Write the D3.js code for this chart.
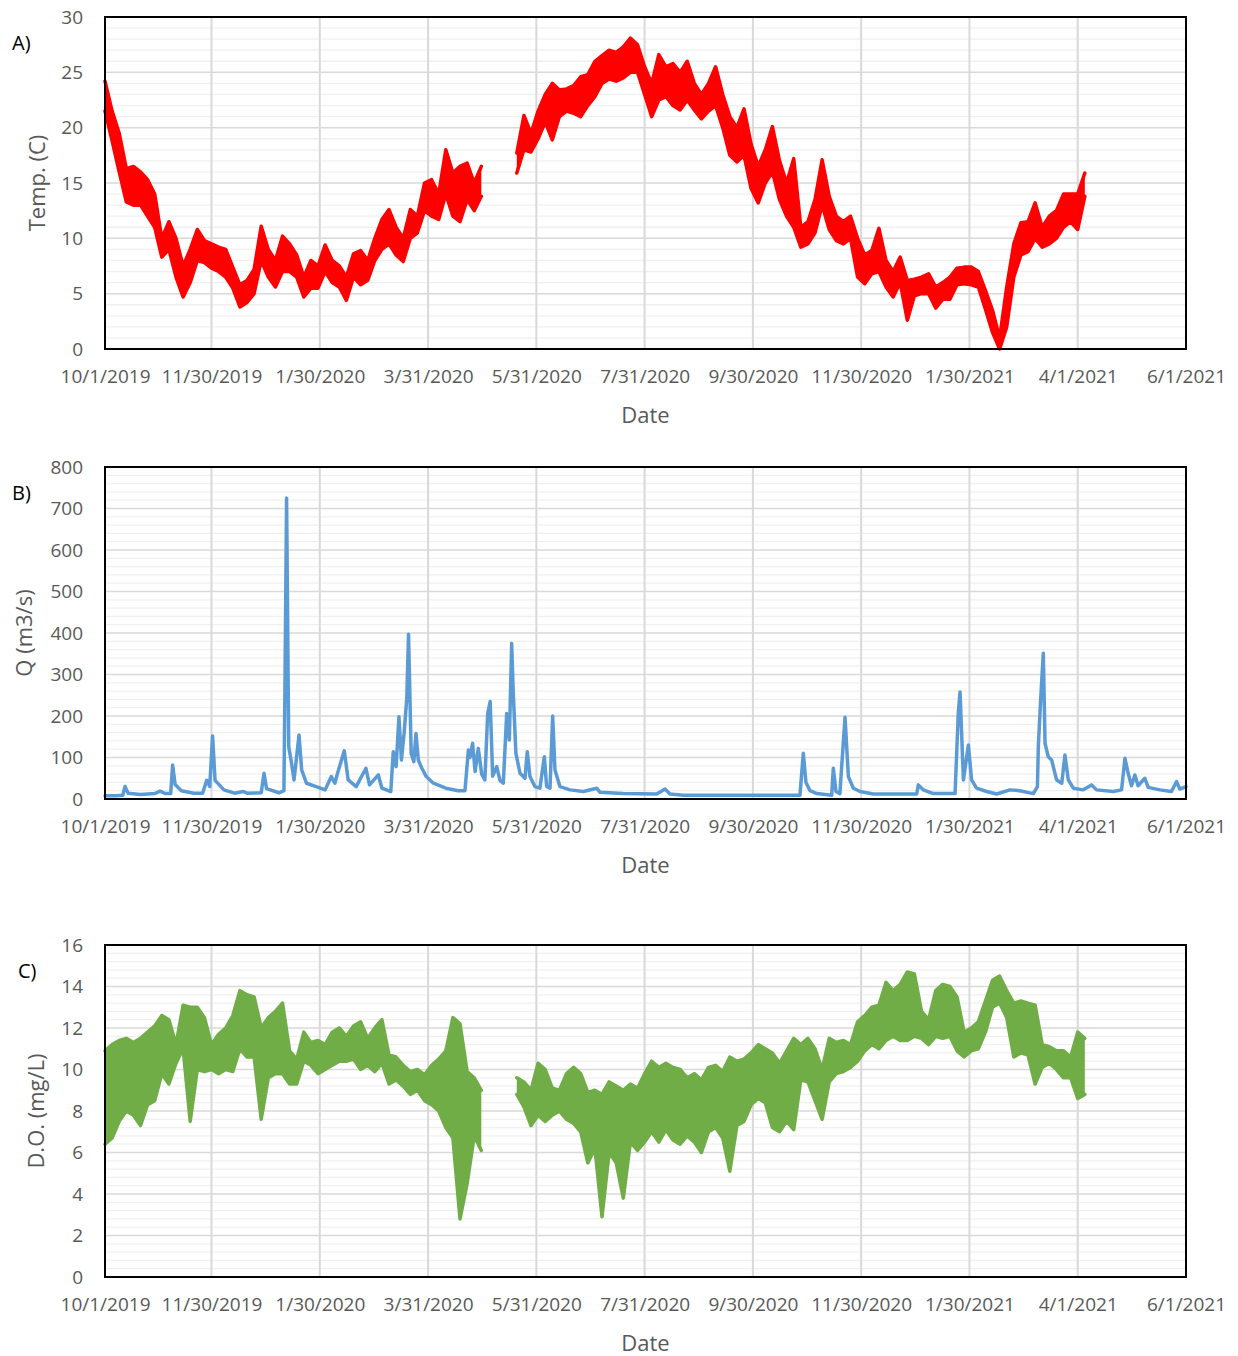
<!DOCTYPE html>
<html>
<head>
<meta charset="utf-8">
<script src="https://cdn.jsdelivr.net/npm/d3@7"></script>
<style>
  body { margin: 0; background: #fff; }
  svg text { font-family: "Open Sans", sans-serif; }
  .tick text { fill: #595959; font-size: 19px; }
  .axis-title { fill: #595959; font-size: 22px; }
  .panel-label { fill: #000; font-size: 20px; }
</style>
</head>
<body>
<div id="chart"></div>
<script>
// x axis tick labels (dates shown under every panel)
var xTickLabels = ["10/1/2019", "11/30/2019", "1/30/2020", "3/31/2020", "5/31/2020", "7/31/2020",
                   "9/30/2020", "11/30/2020", "1/30/2021", "4/1/2021", "6/1/2021"];
var startLabel = "10/1/2019";
var step = 4; // days between band samples of temp / D.O.

// A) water temperature, daily range sampled every 4 days (null = no record)
var tempHi = [24.2,21.5,19.5,16.3,16.5,16,15.3,14,10,11.5,10,7.5,9,10.8,9.8,9.5,9.2,9.0,7.4,5.8,6.2,7.2,11.1,9,8,10.2,9.5,8.5,6.5,8,7.5,9.4,8,7.5,6.5,8.6,8.9,8,10,11.7,12.6,11,10,12.6,12,15,15.3,14,18,15.9,16.5,16.8,15,16.5,
  null,null,null,null,
  17.7,21.1,19.5,21.5,23,24,23.4,23.5,23.8,24.6,24.8,26,26.5,27,26.8,27.3,28.1,27.5,25.5,24,26.6,25.5,25.8,25,26,24,23,24,25.5,23,21,20,21.7,18.5,16.5,18,20.1,17,15,17.2,11,11.5,13.5,17.1,13.8,12,11.5,12,10,8.5,8.9,10.9,8,7,8.3,6.2,6.3,6.5,6.8,5.6,6,6.5,7.3,7.4,7.4,7,5.3,3.5,1,5.6,9.5,11.4,11.5,13.2,11,12,12.5,14,14,14,15.9];
var tempLo = [21.5,18.8,16,13.3,13,13,12,11,8.3,9,6.5,4.7,6,8,7.8,7.3,7,6.5,5.5,3.8,4.2,5,8,6.5,5.6,7,7,6.5,4.7,5.5,5.5,7,6,5.6,4.4,6.5,5.8,6.2,8,9,9.5,8.5,7.9,10,10.5,12.5,12,11.7,14,12,11.5,13.5,12.5,13.8,
  null,null,null,null,
  15.9,18,17.8,19,20.5,18.9,21,21.5,21.3,21,22,22.8,24,24.4,24.2,24.5,25,25,23,21,22.5,22.8,22,21.6,22.5,21.6,20.8,21.5,22,20,17.5,16.9,17.5,14.5,13.2,15,16,13.5,12,11,9.2,9.5,10.5,13,10.8,9.8,9.5,10,6.5,5.9,6.8,7,5.6,4.7,6,2.6,4.8,5,5,3.7,4.5,4.5,5.8,5.9,5.8,5.6,3.6,1.5,0,2,6.5,8.5,8.8,10,9.2,9.5,10,11,11.5,10.8,13.8];

// B) discharge, day offset from 10/1/2019 and value
var qDays = [0,6,10,11.3,13,20,28,31,34,37,38.1,39.5,43,50,55,57.3,59,60.6,62,67,73,78,80,88,89.6,91,98,100.8,101.4,102.3,103.5,104.8,106.5,109.3,110.8,113.5,119,124,127.5,129.5,131,134.8,137,141.5,147,149,154,156,161,162.4,164,165.6,167,168.5,170,171,172.5,174,175.2,176.5,178.5,181,185,192,199,202.8,204.7,205.6,207.1,208.5,210.3,212.2,214,215.6,217,218.4,220.7,222.5,224.4,226.3,227.8,229.1,230,231.5,233.8,236.6,237.9,239.4,242.2,245,247.5,248.8,250.7,252.2,253.5,256.3,262,269.5,277,278.9,292,310.8,315.5,318.3,325.8,391.5,393.4,394.9,397.2,401,409.4,410.3,411.8,414,416.9,418.8,421.6,425.4,432.8,457.3,458.2,461,466.7,478.9,480.7,481.7,483.6,486.4,488.2,491,496.7,502.3,509.8,515.4,523,525.3,525.8,527.1,528.6,529.6,531.4,533.3,536.1,539,540.8,542.7,545.5,551.1,555.8,558.6,568,572.7,574.6,576.4,578.3,580.2,582,585.8,587.7,594.3,600.8,603.7,605.5,609];
var qValues = [8,8,9,30,14,11,13,19,13,13,82,35,20,14,14,45,30,152,45,22,14,18,14,15,62,25,15,20,283,725,126,94,46,154,70,38,30,22,54,38,62,116,46,30,74,34,58,26,18,114,78,198,94,158,242,397,110,90,158,94,74,54,38,26,20,20,118,100,134,66,122,60,46,206,235,55,78,45,38,206,142,375,255,110,62,50,114,54,30,26,102,30,26,200,70,30,22,18,26,16,13,12,24,12,9,9,110,40,20,13,9,74,18,13,197,54,26,18,12,12,34,22,13,13,206,258,46,130,46,26,18,12,22,20,13,30,126,238,351,134,102,94,46,38,106,46,26,22,34,22,18,22,98,62,32,58,32,50,28,22,18,42,24,30];

// C) dissolved oxygen, daily range sampled every 4 days
var doHi = [10.9,11.2,11.4,11.5,11.3,11.5,11.8,12.1,12.6,12.4,11.2,13.1,13,13,12.5,11.2,11.7,12,12.6,13.8,13.6,13.5,12,12.5,12.8,13.2,10.9,10.5,11.8,11.3,11.4,11.2,11.8,12,11.6,12.1,12.3,11.5,12,12.4,10.7,10.6,10.2,9.9,10,9.75,10.2,10.5,10.9,12.5,12.2,9.9,9.6,9,
  null,null,null,null,
  9.6,9.4,9,10.3,10,9.1,9,9.8,10.1,9.8,8.9,9,8.8,9.4,9.2,9,9.3,9.1,9.8,10.4,10.1,10.3,10.1,10,9.6,9.8,9.5,10.1,10.2,9.9,10.6,10.4,10.5,10.8,11.2,11,10.8,10.3,10.9,11.5,11.2,11.5,11,10,11.5,11.3,11.4,11.2,12.3,12.6,13,13.1,14.2,13.8,14.1,14.7,14.6,12.8,12.4,13.8,14.1,14,13.5,11.8,12,12.3,13.3,14.3,14.5,13.8,13.2,13.3,13.2,13.1,11.2,11.1,10.9,10.9,10.6,11.8,11.5];
var doLo = [6.4,6.7,7.5,8,7.8,7.3,8.3,8.5,9.8,9.3,10.3,11,7.5,10,9.9,10,9.8,10,9.9,11,10.6,10.6,7.6,9.6,9.8,9.8,9.3,9.3,10.4,10.2,9.8,10,10.2,10.4,10.4,10.5,10,10.2,9.9,10.3,9.3,9.5,9.2,8.8,9,8.5,8.3,8,7.2,6.7,2.8,4.5,6.8,6.1,
  null,null,null,null,
  8.8,8.2,7.3,7.8,7.5,7.8,8,7.6,7.4,7,5.5,6.2,2.9,6,5.5,3.8,6.5,6.1,6.5,7,6.5,7.1,6.6,6.4,6.8,6.5,6,7,7.2,6.7,5.1,7.3,7.5,8.3,8.6,8.4,7.2,7,7.5,7.1,9.5,9.4,8.5,7.6,9.4,9.8,9.9,10.1,10.4,10.9,11.2,11,11.4,11.6,11.4,11.4,11.6,11.5,11.2,11.6,11.5,11.6,10.9,10.6,10.9,11,11.8,13,13.2,12.5,10.6,10.8,10.7,9.3,10.1,10.3,10,9.6,9.6,8.6,8.8];

var parseDate = d3.timeParse("%m/%d/%Y");
var fmtDate = d3.timeFormat("%-m/%-d/%Y");
var start = parseDate(startLabel);
var tickDates = xTickLabels.map(parseDate);

function dayToDate(d) { return new Date(start.getTime() + d * 864e5); }

var tempData = tempHi.map(function(h, i) { return {date: d3.timeDay.offset(start, i * step), hi: h, lo: tempLo[i]}; });
var doData = doHi.map(function(h, i) { return {date: d3.timeDay.offset(start, i * step), hi: h, lo: doLo[i]}; });
var qData = qDays.map(function(d, i) { return {date: dayToDate(d), v: qValues[i]}; });

var W = 1238, H = 1356;
var left = 105, right = 1186, plotH = 332;

var svg = d3.select("#chart").append("svg").attr("width", W).attr("height", H);

var x = d3.scaleTime().domain([tickDates[0], tickDates[tickDates.length - 1]]).range([left, right]);

var panels = [
  {label: "A)", labelX: 12, top: 17, yMax: 30, major: 5, minor: 1, title: "Temp. (C)", titleX: 37,
   kind: "band", data: tempData, color: "#ff0000"},
  {label: "B)", labelX: 12, top: 467, yMax: 800, major: 100, minor: 20, title: "Q (m3/s)", titleX: 24,
   kind: "line", data: qData, color: "#5b9bd5"},
  {label: "C)", labelX: 18, top: 945, yMax: 16, major: 2, minor: 0.4, title: "D.O. (mg/L)", titleX: 36,
   kind: "band", data: doData, color: "#70ad47"}
];

panels.forEach(drawPanel);

function drawPanel(p) {
  var bottom = p.top + plotH;
  var y = d3.scaleLinear().domain([0, p.yMax]).range([bottom, p.top]);
  var g = svg.append("g");

  // minor horizontal grid
  var minorTicks = d3.range(1, Math.round(p.yMax / p.minor)).map(function(i) { return i * p.minor; })
    .filter(function(v) { return Math.abs(v / p.major - Math.round(v / p.major)) > 1e-6; });
  g.append("g").selectAll("line").data(minorTicks).join("line")
    .attr("x1", left).attr("x2", right)
    .attr("y1", function(d) { return y(d); }).attr("y2", function(d) { return y(d); })
    .attr("stroke", "#f0f0f0").attr("stroke-width", 1.3);

  // major grid
  var majorTicks = d3.range(0, p.yMax + p.major / 2, p.major);
  g.append("g").selectAll("line").data(majorTicks).join("line")
    .attr("x1", left).attr("x2", right)
    .attr("y1", function(d) { return y(d); }).attr("y2", function(d) { return y(d); })
    .attr("stroke", "#d9d9d9").attr("stroke-width", 1.5);
  g.append("g").selectAll("line").data(tickDates).join("line")
    .attr("x1", function(d) { return x(d); }).attr("x2", function(d) { return x(d); })
    .attr("y1", p.top).attr("y2", bottom)
    .attr("stroke", "#d9d9d9").attr("stroke-width", 2);

  // series
  if (p.kind == "band") {
    var area = d3.area()
      .defined(function(d) { return d.hi != null; })
      .x(function(d) { return x(d.date); })
      .y0(function(d) { return y(d.lo); })
      .y1(function(d) { return y(d.hi); });
    var hiLine = d3.line().defined(function(d) { return d.hi != null; })
      .x(function(d) { return x(d.date); }).y(function(d) { return y(d.hi); });
    var loLine = d3.line().defined(function(d) { return d.lo != null; })
      .x(function(d) { return x(d.date); }).y(function(d) { return y(d.lo); });
    g.append("path").datum(p.data).attr("d", area).attr("fill", p.color);
    [hiLine, loLine].forEach(function(l) {
      g.append("path").datum(p.data).attr("d", l)
        .attr("fill", "none").attr("stroke", p.color)
        .attr("stroke-width", 3.5).attr("stroke-linejoin", "round").attr("stroke-linecap", "round");
    });
  } else {
    var line = d3.line().x(function(d) { return x(d.date); }).y(function(d) { return y(d.v); });
    g.append("path").datum(p.data).attr("d", line)
      .attr("fill", "none").attr("stroke", p.color)
      .attr("stroke-width", 3.5).attr("stroke-linejoin", "round").attr("stroke-linecap", "round");
  }

  // frame
  g.append("rect").attr("x", left).attr("y", p.top).attr("width", right - left).attr("height", plotH)
    .attr("fill", "none").attr("stroke", "#000").attr("stroke-width", 2);

  // axes
  var yAxis = d3.axisLeft(y).tickValues(majorTicks).tickSize(0).tickPadding(22);
  var xAxis = d3.axisBottom(x).tickValues(tickDates).tickFormat(fmtDate).tickSize(0).tickPadding(21);
  g.append("g").attr("transform", "translate(" + left + ",0)").call(yAxis)
    .call(function(a) { a.select(".domain").remove(); });
  g.append("g").attr("transform", "translate(0," + bottom + ")").call(xAxis)
    .call(function(a) { a.select(".domain").remove(); });
  g.selectAll(".tick text").attr("font-family", null);

  // titles
  g.append("text").attr("class", "axis-title")
    .attr("x", (left + right) / 2).attr("y", bottom + 66).attr("dy", "0.35em")
    .attr("text-anchor", "middle").text("Date");
  g.append("text").attr("class", "axis-title")
    .attr("transform", "translate(" + p.titleX + "," + (p.top + plotH / 2) + ") rotate(-90)")
    .attr("dy", "0.35em").attr("text-anchor", "middle").text(p.title);
  g.append("text").attr("class", "panel-label")
    .attr("x", p.labelX).attr("y", p.top + 26).attr("dy", "0.35em").text(p.label);
}
</script>
</body>
</html>
